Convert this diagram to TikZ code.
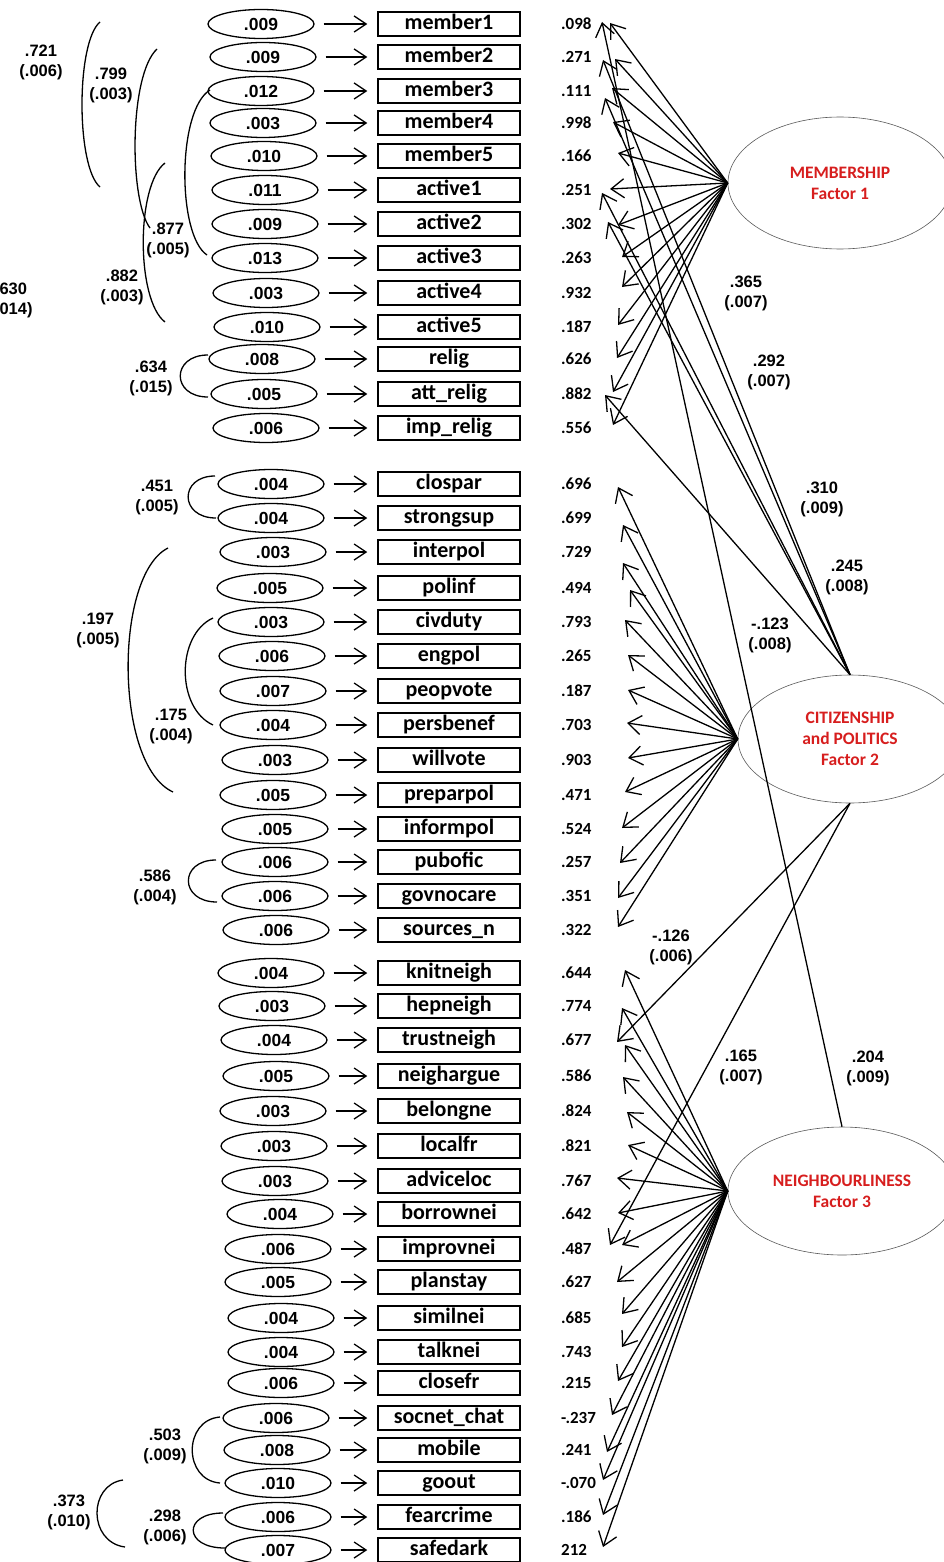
\documentclass[tikz,border=0pt]{standalone}
\usepackage{fontspec}
\setmainfont{Carlito}
\newfontfamily\arialf{Liberation Sans}
\usetikzlibrary{shapes.geometric,arrows.meta}
\definecolor{fred}{RGB}{215,30,30}
\begin{document}
\begin{tikzpicture}[x=1pt,y=-1pt,
  errell/.style={ellipse, draw, line width=1.3pt, minimum width=106pt, minimum height=29pt, inner sep=0pt,
    font=\arialf\bfseries\fontsize{17.5}{20}\selectfont},
  obsbox/.style={rectangle, draw, line width=1.5pt, minimum width=142pt, minimum height=24pt, inner sep=0pt,
    text height=15pt, text depth=4pt, font=\bfseries\fontsize{22}{24}\selectfont},
  valtxt/.style={anchor=west, inner sep=0pt, font=\bfseries\fontsize{17}{20}\selectfont},
  lbl/.style={align=center, inner sep=0pt, font=\arialf\bfseries\fontsize{16.5}{20}\selectfont},
  factor/.style={ellipse, draw=black!65, line width=0.6pt, minimum width=224pt, minimum height=128pt,
    align=center, text=fred, font=\bfseries\fontsize{17.5}{21}\selectfont},
  load/.style={-{Straight Barb[length=13pt,width=19pt]}, line width=1.3pt},
  smallarr/.style={-{Straight Barb[length=12pt,width=16pt]}, line width=1.3pt, shorten <=9pt, shorten >=10pt},
  cov/.style={line width=1.3pt}]
\useasboundingbox (0,0) rectangle (944,1562);
\clip (0,0) rectangle (944,1562);
\fill[white] (0,0) rectangle (944,1562);

% factors
\node[factor, minimum height=132pt] (F1) at (840,183) {MEMBERSHIP\\Factor 1};
\node[factor] (F2) at (850,739) {CITIZENSHIP\\and POLITICS\\Factor 2};
\node[factor, minimum width=228pt] (F3) at (842,1191) {NEIGHBOURLINESS\\Factor 3};

% rows
\foreach \n/\lab/\e/\v/\y/\ex in {
m1/member1/.009/.098/24/261, m2/member2/.009/.271/57/263, m3/member3/.012/.111/91/261,
m4/member4/.003/.998/123/263, m5/member5/.010/.166/156/264, a1/active1/.011/.251/190/265,
a2/active2/.009/.302/224/265, a3/active3/.013/.263/258/265, a4/active4/.003/.932/293/266,
a5/active5/.010/.187/327/267, r1/relig/.008/.626/359/262, r2/att\_relig/.005/.882/394/264,
r3/imp\_relig/.006/.556/428/266,
c1/clospar/.004/.696/484/271, c2/strongsup/.004/.699/518/271, c3/interpol/.003/.729/552/273,
c4/polinf/.005/.494/588/270, c5/civduty/.003/.793/622/271, c6/engpol/.006/.265/656/272,
c7/peopvote/.007/.187/691/273, c8/persbenef/.004/.703/725/273, c9/willvote/.003/.903/760/275,
c10/preparpol/.005/.471/795/273, c11/informpol/.005/.524/829/275, c12/pubofic/.006/.257/862/275,
c13/govnocare/.006/.351/896/275, c14/sources\_n/.006/.322/930/276,
n1/knitneigh/.004/.644/973/271, n2/hepneigh/.003/.774/1006/272, n3/trustneigh/.004/.677/1040/274,
n4/neighargue/.005/.586/1076/276, n5/belongne/.003/.824/1111/273, n6/localfr/.003/.821/1146/274,
n7/adviceloc/.003/.767/1181/275, n8/borrownei/.004/.642/1214/280, n9/improvnei/.006/.487/1249/278,
n10/planstay/.005/.627/1282/278, n11/similnei/.004/.685/1318/281, n12/talknei/.004/.743/1352/281,
n13/closefr/.006/.215/1383/281, n14/socnet\_chat/.006/-.237/1418/276, n15/mobile/.008/.241/1450/277,
n16/goout/.010/-.070/1483/278, n17/fearcrime/.006/.186/1517/278, n18/safedark/.007/212/1550/278}
{
  \node[errell] (e\n) at (\ex,\y) {\e};
  \node[obsbox] (b\n) at (449,\y) {\lab};
  \node[valtxt] (v\n) at (561,\y) {\v};
  \draw[smallarr] (e\n) -- (b\n);
}

% loading tips
\foreach \n/\tx/\ty in {m1/610/23, m2/615/59, m3/612/88, m4/613/122, m5/618/153, a1/610/189,
  a2/618/225, a3/622/257, a4/622/287, a5/618/325, r1/617/358, r2/613/392, r3/613/425}
{ \coordinate (t\n) at (\tx,\ty); \draw[load] (F1.west) -- (t\n); }
\foreach \n/\tx/\ty in {c1/618/487, c2/623/525, c3/623/563, c4/630/590, c5/625/620, c6/628/655,
  c7/628/690, c8/627/723, c9/628/758, c10/625/792, c11/622/828, c12/620/863, c13/618/898, c14/618/927}
{ \coordinate (t\n) at (\tx,\ty); \draw[load] (F2.west) -- (t\n); }
\foreach \n/\tx/\ty in {n1/625/970, n2/622/1008, n3/625/1045, n4/623/1077, n5/627/1112, n6/628/1145,
  n7/617/1178, n8/618/1213, n9/622/1245, n10/617/1282, n11/622/1314, n12/622/1347, n13/618/1381,
  n14/612/1415, n15/607/1452, n16/603/1480, n17/603/1515, n18/603/1547}
{ \coordinate (t\n) at (\tx,\ty); \draw[load] (F3.west) -- (t\n); }

% cross loadings
\coordinate (xm1) at (602,22);
\coordinate (xm2) at (603,60);
\coordinate (xm3) at (605,98);
\coordinate (xa1) at (602,193);
\coordinate (xa2) at (608,222);
\coordinate (xr2) at (605,395);
\coordinate (xn3) at (617,1042);
\coordinate (xn9) at (610,1245);
\draw[load] (F3.north) -- (xm1);
\draw[load] (F2.north) -- (xm2);
\draw[load] (F2.north) -- (xm3);
\draw[load] (F2.north) -- (xa1);
\draw[load] (F2.north) -- (xa2);
\draw[load] (F2.north) -- (xr2);
\draw[load] (F2.south) -- (xn3);
\draw[load] (F2.south) -- (xn9);

\node[lbl] (l365) at (746,293) {.365\\(.007)};
\node[lbl] (l292) at (769,372) {.292\\(.007)};
\node[lbl] (l310) at (822,499) {.310\\(.009)};
\node[lbl] (l245) at (847,577) {.245\\(.008)};
\node[lbl] (l123) at (770,635) {-.123\\(.008)};
\node[lbl] (l126) at (671,947) {-.126\\(.006)};
\node[lbl] (l165) at (741,1067) {.165\\(.007)};
\node[lbl] (l204) at (868,1068) {.204\\(.009)};

% covariances
\draw[cov] (100,22) .. controls (76,42) and (76,167) .. (100,187);
\node[lbl] (k721) at (41,62) {.721\\(.006)};
\draw[cov] (157,49) .. controls (129,75) and (129,200) .. (150,228);
\node[lbl] (k799) at (111,85) {.799\\(.003)};
\draw[cov] (210,90) .. controls (177,110) and (177,235) .. (207,255);
\node[lbl] (k877) at (168,240) {.877\\(.005)};
\draw[cov] (165,163) .. controls (136,185) and (136,300) .. (165,322);
\node[lbl] (k882) at (122,287) {.882\\(.003)};
\node[lbl] (k630) at (11,300) {.630\\(.014)};
\draw[cov] (208,355) .. controls (171,355) and (171,397) .. (208,397);
\node[lbl] (k634) at (151,378) {.634\\(.015)};
\draw[cov] (215,476) .. controls (179,476) and (179,518) .. (216,518);
\node[lbl] (k451) at (157,498) {.451\\(.005)};
\draw[cov] (168,548) .. controls (114,575) and (114,765) .. (173,792);
\node[lbl] (k197) at (98,630) {.197\\(.005)};
\draw[cov] (213,618) .. controls (176,635) and (176,708) .. (213,725);
\node[lbl] (k175) at (171,727) {.175\\(.004)};
\draw[cov] (216,860) .. controls (179,860) and (179,902) .. (217,902);
\node[lbl] (k586) at (155,887) {.586\\(.004)};
\draw[cov] (220,1417) .. controls (183,1420) and (183,1480) .. (220,1483);
\node[lbl] (k503) at (165,1446) {.503\\(.009)};
\draw[cov] (223,1513) .. controls (183,1513) and (183,1548) .. (225,1548);
\node[lbl] (k298) at (165,1527) {.298\\(.006)};
\draw[cov] (123,1480) .. controls (88,1485) and (88,1542) .. (125,1547);
\node[lbl] (k373) at (69,1512) {.373\\(.010)};
\end{tikzpicture}
\end{document}
